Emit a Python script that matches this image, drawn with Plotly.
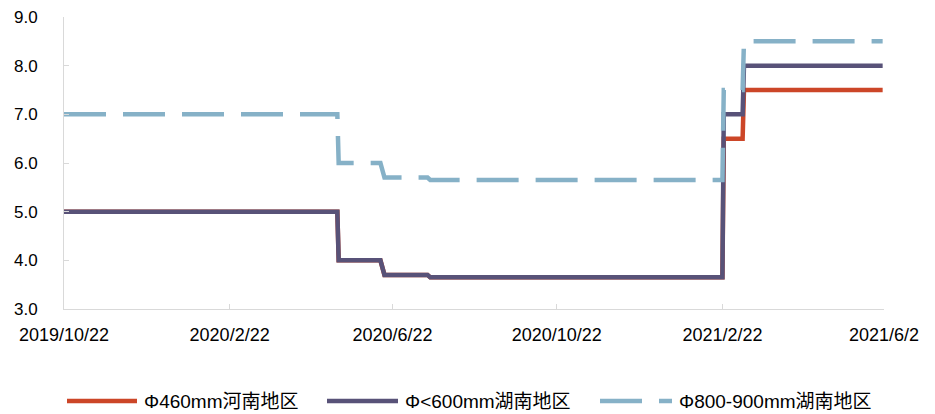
import plotly.graph_objects as go

# step dates (price changes) and prices, 元/吨 scale as shown
dates = ["2019-10-22", "2020-05-12", "2020-05-13", "2020-06-13", "2020-06-16",
         "2020-07-18", "2020-07-20", "2021-02-22", "2021-02-23", "2021-03-09",
         "2021-03-10", "2021-06-21"]
henan_460 = [5.0, 5.0, 4.0, 4.0, 3.7, 3.7, 3.65, 3.65, 6.5, 6.5, 7.5, 7.5]
hunan_600 = [5.0, 5.0, 4.0, 4.0, 3.7, 3.7, 3.65, 3.65, 7.0, 7.0, 8.0, 8.0]
hunan_800 = [7.0, 7.0, 6.0, 6.0, 5.7, 5.7, 5.65, 5.65, 7.5, 7.5, 8.5, 8.5]

names = ["Φ460mm河南地区", "Φ<600mm湖南地区", "Φ800-900mm湖南地区"]
colors = ["#CC4628", "#585278", "#86B1C7"]

tick_dates = ["2019-10-22", "2020-02-22", "2020-06-22", "2020-10-22", "2021-02-22", "2021-06-22"]
tick_text = ["2019/10/22", "2020/2/22", "2020/6/22", "2020/10/22", "2021/2/22", "2021/6/2"]

FONT = "Liberation Sans, Arial, Noto Sans CJK SC, sans-serif"

fig = go.Figure()
fig.add_trace(go.Scatter(x=dates, y=henan_460, mode="lines", name=names[0],
                         line=dict(color=colors[0], width=4.5)))
fig.add_trace(go.Scatter(x=dates, y=hunan_600, mode="lines", name=names[1],
                         line=dict(color=colors[1], width=4.5)))
fig.add_trace(go.Scatter(x=dates, y=hunan_800, mode="lines", name=names[2],
                         line=dict(color=colors[2], width=4.5, dash="42px,17px")))

# page body has an 8px margin, so the figure is shrunk/shifted by that
OFF = 8
FW, FH = 935 - OFF, 414 - OFF
L, W, T, H = 64 - OFF, 820, 17 - OFF, 292

# hand-made legend below the plot (longer sample lines than plotly's own)
def px(x):
    return (x - OFF - L) / W
leg_y = (T + H - (401 - OFF)) / H
leg_items = [(67, 137), (327, 398), (600, 672)]
for (x0, x1), nm, c, d in zip(leg_items, names, colors, ["solid", "solid", "42px,17px"]):
    fig.add_shape(type="line", xref="paper", yref="paper", x0=px(x0), x1=px(x1),
                  y0=leg_y, y1=leg_y, line=dict(color=c, width=4.5, dash=d))
    fig.add_annotation(xref="paper", yref="paper", x=px(x1 + 5), y=leg_y, text=nm,
                       showarrow=False, xanchor="left", yanchor="middle",
                       font=dict(size=19, color="#000000", family=FONT))

fig.update_layout(
    width=FW, height=FH,
    margin=dict(l=L, r=FW - L - W, t=T, b=FH - T - H, autoexpand=False),
    plot_bgcolor="white", paper_bgcolor="white",
    showlegend=False,
    font=dict(family=FONT, size=17, color="#000000"),
)
fig.update_xaxes(type="date", range=["2019-10-22", "2021-06-22"],
                 tickvals=tick_dates, ticktext=tick_text, tickfont=dict(size=18),
                 showline=True, linecolor="#d9d9d9", linewidth=1,
                 ticks="inside", ticklen=5, tickcolor="#d9d9d9",
                 showgrid=False, zeroline=False, ticklabelstandoff=9,
                 ticklabeloverflow="allow")
fig.update_yaxes(range=[3, 9], dtick=1, tickformat=".1f",
                 showline=True, linecolor="#d9d9d9", linewidth=1,
                 ticks="inside", ticklen=5, tickcolor="#d9d9d9",
                 showgrid=False, zeroline=False, ticklabelstandoff=22,
                 ticklabeloverflow="allow")

fig.write_html("out.html")
